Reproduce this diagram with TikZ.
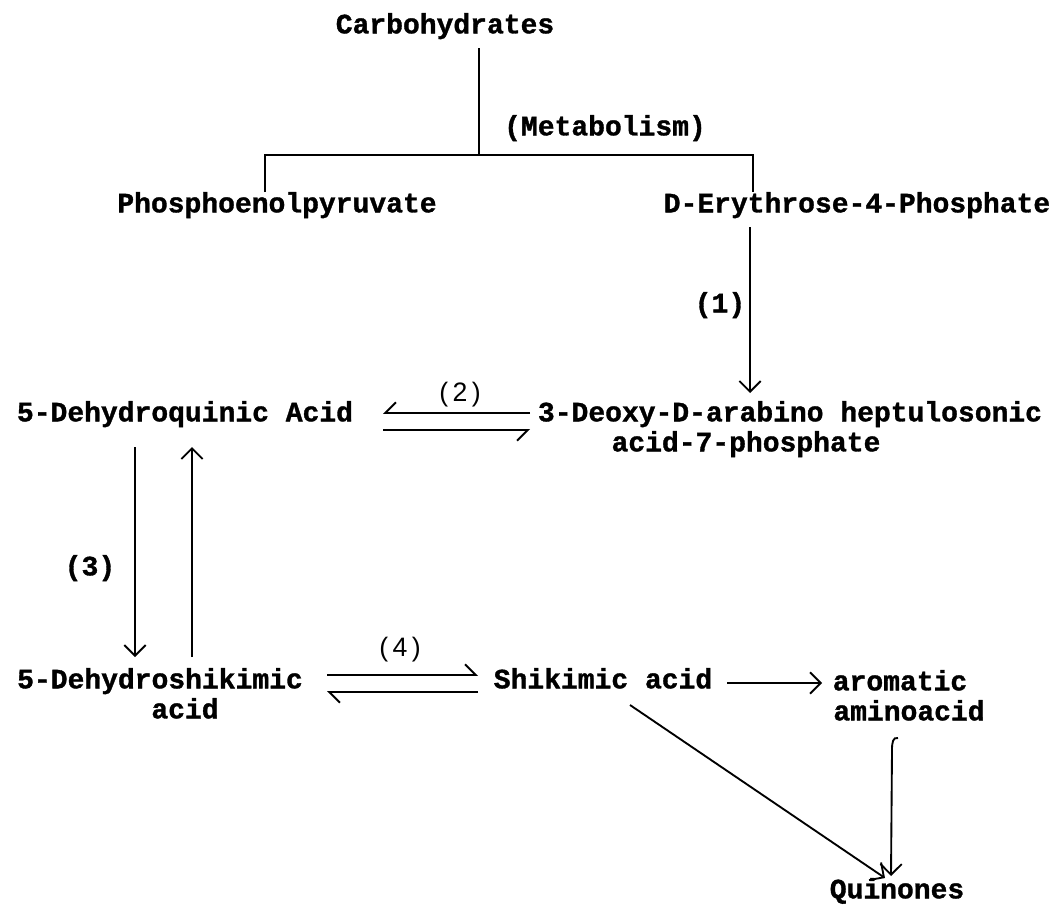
\documentclass[tikz,border=0pt]{standalone}
\usepackage{fontspec}
\usetikzlibrary{arrows.meta,calc}
\newfontfamily\tw[FakeBold=1.2]{Liberation Mono}
\newfontfamily\hw{Liberation Sans}
\begin{document}
\begin{tikzpicture}[x=0.75pt,y=-0.75pt,
  lbl/.style={font=\tw\bfseries\fontsize{21}{25}\selectfont, inner sep=0pt, text height=11pt, text depth=3pt, anchor=center},
  hand/.style={font=\hw\fontsize{20}{24}\selectfont, inner sep=0pt, anchor=center},
  ln/.style={line width=1.4pt},
  arr/.style={ln,-{Straight Barb[length=8pt,width=16pt,line width=1.4pt]}},
  hpl/.style={ln,-{Straight Barb[left,length=8pt,width=16pt,line width=1.4pt]}},
  hpr/.style={ln,-{Straight Barb[right,length=8pt,width=16pt,line width=1.4pt]}}]
\fill[white] (0,0) rectangle (1057,907);
\useasboundingbox (0,0) rectangle (1057,907);

% nodes
\node[lbl] (carb) at (445,28) {Carbohydrates};
\node[lbl] (metab) at (605,130) {(Metabolism)};
\node[lbl] (pep) at (277,207) {Phosphoenolpyruvate};
\node[lbl] (e4p) at (857,207) {D-Erythrose-4-Phosphate};
\node[lbl] (one) at (720,307) {(1)};
\node[lbl] (dhq) at (185,416) {5-Dehydroquinic Acid};
\node[lbl] (dahp1) at (790,416) {3-Deoxy-D-arabino heptulosonic};
\node[lbl] (dahp2) at (746,446) {acid-7-phosphate};
\node[hand] (two) at (460,395) {(\,2\,)};
\node[lbl] (three) at (90,570) {(3)};
\node[lbl] (dhs1) at (160,683) {5-Dehydroshikimic};
\node[lbl] (dhs2) at (185,713) {acid};
\node[hand] (four) at (400,650) {(\,4\,)};
\node[lbl] (shik) at (603,683) {Shikimic acid};
\node[lbl] (arom1) at (900,685) {aromatic};
\node[lbl] (arom2) at (909,715) {aminoacid};
\node[lbl] (quin) at (897,893) {Quinones};

% coordinates
\coordinate (ctop) at (479,48);
\coordinate (cmid) at (479,155);
\coordinate (bl) at (265,155);
\coordinate (br) at (753,155);
\coordinate (pl) at (265,192);
\coordinate (pr) at (753,192);
\coordinate (a1s) at (750,227);
\coordinate (a1e) at (750,393);
\coordinate (a2l) at (383,413);
\coordinate (a2r) at (530,413);
\coordinate (b2l) at (383,430);
\coordinate (b2r) at (530,430);
\coordinate (a3t) at (135,447);
\coordinate (a3b) at (135,657);
\coordinate (b3t) at (192,447);
\coordinate (b3b) at (192,657);
\coordinate (a4l) at (327,675);
\coordinate (a4r) at (478,675);
\coordinate (b4l) at (327,692);
\coordinate (b4r) at (478,692);
\coordinate (sa) at (727,683);
\coordinate (sb) at (822,683);
\coordinate (sq) at (630,705);
\coordinate (qa) at (885,878);
\coordinate (ht) at (898,738);
\coordinate (qb) at (891,876);

% connectors
\draw[ln] (ctop) -- (cmid);
\draw[ln] (pl) -- (bl) -- (br) -- (pr);
\draw[arr] (a1s) -- (a1e);
\draw[hpr] (a2r) -- (a2l);
\draw[hpr] (b2l) -- (b2r);
\draw[arr] (a3t) -- (a3b);
\draw[arr] (b3b) -- (b3t);
\draw[hpl] (a4l) -- (a4r);
\draw[hpl] (b4r) -- (b4l);
\draw[arr] (sa) -- (sb);
\draw[arr] (sq) -- (qa);
\draw[arr] (ht) .. controls (893,737) and (892,742) .. (892,750) -- (qb);
\end{tikzpicture}
\end{document}
